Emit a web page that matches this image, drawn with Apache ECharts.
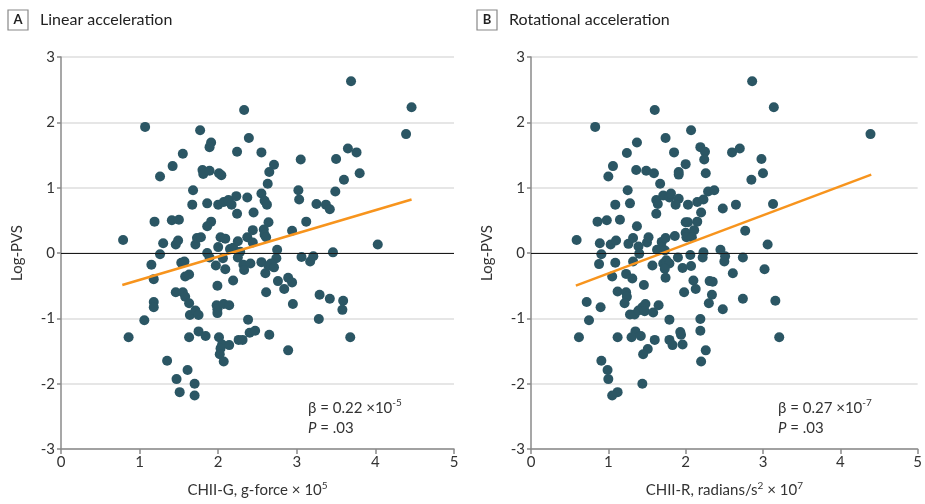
<!DOCTYPE html>
<html>
<head>
<meta charset="utf-8">
<script src="https://cdn.jsdelivr.net/npm/echarts@6/dist/echarts.min.js"></script>
<style>
  html, body { margin: 0; padding: 0; background: #fff; }
  #chart { width: 925px; height: 504px; }
</style>
</head>
<body>
<div id="chart"></div>
<script>
// panel A: CHII-G (g-force x 10^5) vs Log-PVS
const linearPoints = [
  [1.07, 1.93], [2.33, 2.19], [1.77, 1.88], [1.91, 1.69], [1.89, 1.62], [2.39, 1.76],
  [2.24, 1.55], [2.55, 1.54], [1.55, 1.52], [1.42, 1.33], [1.26, 1.17], [1.80, 1.27],
  [1.81, 1.21], [1.89, 1.26], [2.01, 1.22], [2.04, 1.19], [1.68, 0.96], [1.67, 0.74],
  [1.86, 0.76], [2.00, 0.74], [2.07, 0.78], [2.13, 0.81], [2.17, 0.74], [2.23, 0.87],
  [2.37, 0.85], [2.24, 0.60], [2.45, 0.62], [2.55, 0.91], [1.19, 0.48], [1.41, 0.50],
  [1.50, 0.51], [1.91, 0.48], [1.86, 0.41], [2.44, 0.35], [0.79, 0.20], [1.30, 0.15],
  [1.46, 0.13], [1.49, 0.19], [1.71, 0.13], [1.73, 0.23], [1.78, 0.24], [2.00, 0.09],
  [2.03, 0.24], [2.09, 0.22], [2.15, 0.06], [2.19, 0.08], [2.25, 0.18], [2.37, 0.24],
  [2.44, 0.16], [1.26, -0.02], [1.86, 0.00], [1.53, -0.15], [1.57, -0.13], [2.06, -0.08],
  [1.89, -0.07], [2.28, 0.02], [2.25, -0.07], [1.15, -0.18], [1.97, -0.19], [2.09, -0.25],
  [2.32, -0.18], [2.41, -0.16], [2.33, -0.26], [2.55, -0.14], [1.18, -0.40], [1.58, -0.36],
  [1.63, -0.33], [2.19, -0.42], [1.99, -0.50], [1.46, -0.60], [1.55, -0.60], [1.58, -0.67],
  [1.63, -0.77], [1.18, -0.75], [1.18, -0.83], [1.64, -0.95], [1.71, -0.88], [1.75, -0.95],
  [1.98, -0.80], [1.99, -0.86], [1.99, -0.92], [2.07, -0.78], [2.14, -0.80], [1.06, -1.03],
  [2.38, -1.02], [0.86, -1.29], [1.63, -1.29], [1.75, -1.20], [1.84, -1.27], [2.01, -1.29],
  [2.05, -1.40], [2.03, -1.46], [2.02, -1.55], [2.07, -1.66], [2.14, -1.41], [2.26, -1.33],
  [2.31, -1.33], [2.40, -1.22], [2.47, -1.19], [1.35, -1.65], [1.61, -1.79], [1.47, -1.93],
  [1.70, -2.00], [1.51, -2.13], [1.70, -2.18], [3.69, 2.63], [4.46, 2.23], [4.39, 1.82],
  [2.71, 1.35], [2.65, 1.24], [2.63, 1.06], [3.05, 1.43], [3.50, 1.44], [3.65, 1.60],
  [3.76, 1.54], [3.80, 1.22], [3.60, 1.12], [3.49, 0.94], [3.02, 0.96], [3.03, 0.82],
  [3.25, 0.75], [3.37, 0.74], [3.42, 0.67], [2.59, 0.80], [2.62, 0.74], [2.64, 0.47],
  [3.12, 0.48], [2.94, 0.34], [2.58, 0.36], [2.59, 0.28], [2.61, 0.24], [2.75, 0.05],
  [4.03, 0.13], [3.06, -0.06], [3.17, -0.13], [3.21, -0.05], [3.46, 0.01], [2.74, -0.08],
  [2.60, -0.31], [2.64, -0.20], [2.67, -0.16], [2.71, -0.22], [2.76, -0.43], [2.84, -0.55],
  [2.89, -0.38], [2.94, -0.45], [2.61, -0.60], [2.95, -0.78], [3.29, -0.64], [3.42, -0.70],
  [3.59, -0.73], [3.58, -0.87], [3.28, -1.01], [2.65, -1.25], [3.68, -1.29], [2.89, -1.49]
]
const linearFit = [[0.78, -0.49], [4.46, 0.82]]

// panel B: CHII-R (radians/s^2 x 10^7) vs Log-PVS
const rotationalPoints = [
  [1.60, 2.19], [0.83, 1.93], [2.07, 1.88], [1.74, 1.76], [1.37, 1.69], [2.19, 1.62],
  [2.25, 1.55], [2.24, 1.43], [1.85, 1.54], [1.24, 1.53], [1.06, 1.33], [1.00, 1.17],
  [1.36, 1.27], [1.49, 1.26], [1.59, 1.22], [1.91, 1.24], [1.91, 1.20], [2.00, 1.36],
  [2.26, 1.22], [1.67, 1.06], [1.25, 0.96], [1.09, 0.74], [1.28, 0.76], [1.62, 0.81],
  [1.64, 0.75], [1.71, 0.88], [1.79, 0.85], [1.81, 0.91], [1.91, 0.83], [1.87, 0.74],
  [2.03, 0.74], [2.15, 0.78], [2.23, 0.82], [2.29, 0.94], [2.37, 0.96], [2.48, 0.68],
  [1.62, 0.60], [2.20, 0.62], [0.86, 0.48], [0.98, 0.50], [1.15, 0.51], [1.37, 0.41],
  [2.00, 0.47], [2.03, 0.47], [2.15, 0.48], [2.11, 0.35], [0.59, 0.20], [0.89, 0.15],
  [1.03, 0.13], [1.10, 0.19], [1.26, 0.14], [1.32, 0.23], [1.50, 0.16], [1.52, 0.24],
  [1.69, 0.17], [1.74, 0.23], [1.86, 0.26], [2.00, 0.31], [2.01, 0.24], [2.08, 0.24],
  [2.45, 0.05], [0.91, -0.02], [1.39, 0.10], [1.40, -0.01], [1.63, 0.05], [1.69, 0.08],
  [1.90, -0.07], [2.06, -0.03], [2.23, 0.01], [2.22, -0.07], [2.51, -0.05], [2.50, -0.13],
  [1.73, 0.04], [0.88, -0.17], [1.09, -0.15], [1.32, -0.13], [1.57, -0.19], [1.71, -0.16],
  [1.75, -0.11], [1.79, -0.16], [1.73, -0.24], [1.96, -0.23], [2.07, -0.20], [1.05, -0.36],
  [1.23, -0.32], [1.31, -0.39], [1.46, -0.49], [1.74, -0.38], [2.10, -0.42], [2.31, -0.43],
  [2.35, -0.44], [1.98, -0.60], [2.13, -0.55], [1.12, -0.59], [1.23, -0.60], [1.24, -0.67],
  [1.21, -0.77], [2.34, -0.64], [2.30, -0.77], [0.72, -0.75], [0.90, -0.83], [2.48, -0.86],
  [1.28, -0.94], [1.34, -0.94], [1.39, -0.88], [1.44, -0.83], [1.48, -0.78], [1.47, -0.89],
  [1.58, -0.91], [1.65, -0.80], [0.75, -1.03], [1.79, -1.02], [2.19, -1.01], [2.19, -1.19],
  [1.93, -1.21], [1.94, -1.25], [0.62, -1.29], [1.12, -1.29], [1.35, -1.20], [1.30, -1.29],
  [1.42, -1.27], [1.60, -1.33], [1.79, -1.33], [1.83, -1.41], [1.96, -1.40], [2.26, -1.49],
  [2.20, -1.66], [1.51, -1.47], [1.45, -1.55], [0.91, -1.65], [0.99, -1.79], [1.00, -1.93],
  [1.44, -2.00], [1.12, -2.13], [1.05, -2.18], [2.86, 2.63], [3.14, 2.23], [4.39, 1.82],
  [2.60, 1.54], [2.70, 1.60], [2.98, 1.44], [3.00, 1.22], [2.85, 1.12], [2.65, 0.74],
  [3.13, 0.75], [2.77, 0.34], [3.06, 0.13], [2.74, -0.07], [2.61, -0.31], [3.02, -0.25],
  [2.74, -0.70], [3.16, -0.73], [3.21, -1.29]
]
const rotationalFit = [[0.58, -0.50], [4.40, 1.20]]

const xRange = [0, 5]
const yRange = [-3, 3]

const FONT = 'Lato'
const dotColor = '#2b5664'
const fitColor = '#f7941d'
const textColor = '#333'

const supRich = {
  sup: { fontSize: 10, fontFamily: FONT, color: textColor, verticalAlign: 'top', padding: [0, 0, 8, 0] },
  it: { fontSize: 15, fontFamily: FONT, color: textColor, fontStyle: 'italic' }
}

const makeX = (gridIndex, name) => ({
  gridIndex,
  type: 'value',
  min: xRange[0],
  max: xRange[1],
  interval: 1,
  name,
  nameLocation: 'middle',
  nameGap: 32,
  nameTextStyle: { fontFamily: FONT, fontSize: 15, color: textColor, rich: supRich },
  axisLine: { onZero: false, lineStyle: { color: '#8a8a8a', width: 1.5 } },
  axisTick: { show: true, length: 5, lineStyle: { color: '#8a8a8a', width: 1.5 } },
  axisLabel: { fontFamily: FONT, fontSize: 15, color: textColor, margin: 6 },
  splitLine: { show: false }
})

const makeY = (gridIndex) => ({
  gridIndex,
  type: 'value',
  min: yRange[0],
  max: yRange[1],
  interval: 1,
  name: 'Log-PVS',
  nameLocation: 'middle',
  nameGap: 36,
  nameTextStyle: { fontFamily: FONT, fontSize: 15, color: textColor },
  axisLine: { lineStyle: { color: '#8a8a8a', width: 1.5 } },
  axisTick: { show: true, length: 4, lineStyle: { color: '#8a8a8a', width: 1.5 } },
  axisLabel: { fontFamily: FONT, fontSize: 15, color: textColor, margin: 6 },
  splitLine: { show: true, lineStyle: { color: '#dedede', width: 1.5 } }
})

const zeroLine = {
  silent: true,
  symbol: 'none',
  label: { show: false },
  lineStyle: { color: '#1a1a1a', width: 1.2, type: 'solid' },
  data: [{ yAxis: 0 }]
}

const scatter = (idx, data) => ({
  type: 'scatter',
  xAxisIndex: idx,
  yAxisIndex: idx,
  symbolSize: 10,
  itemStyle: { color: dotColor, opacity: 1 },
  data,
  markLine: zeroLine,
  z: 3
})

const fitLine = (idx, data) => ({
  type: 'line',
  xAxisIndex: idx,
  yAxisIndex: idx,
  data,
  symbol: 'none',
  lineStyle: { color: fitColor, width: 2.5 },
  z: 4
})

const panelHeader = (x, letter, label) => ([
  {
    type: 'rect',
    shape: { x: x, y: 10, width: 20, height: 20 },
    style: { fill: '#fff', stroke: '#888', lineWidth: 1.2 }
  },
  {
    type: 'text',
    x: x + 10, y: 20,
    style: { text: letter, fontFamily: FONT, fontSize: 13, fontWeight: 'bold', fill: '#222', align: 'center', verticalAlign: 'middle' }
  },
  {
    type: 'text',
    x: x + 32, y: 20,
    style: { text: label, fontFamily: FONT, fontSize: 16, fill: '#222', verticalAlign: 'middle' }
  }
])

const stats = (x, beta) => ({
  type: 'text',
  x, y: 398,
  style: {
    text: '\u03b2 = ' + beta[0] + ' \u00d710{sup|' + beta[1] + '}\n{it|P} = .03',
    fontFamily: FONT, fontSize: 15, fill: textColor, lineHeight: 20,
    rich: supRich
  }
})

const chart = echarts.init(document.getElementById('chart'), null, { renderer: 'canvas' })
chart.setOption({
  animation: false,
  backgroundColor: '#fff',
  grid: [
    { left: 61, top: 57, width: 393, height: 392 },
    { left: 531, top: 57, width: 391, height: 392 }
  ],
  xAxis: [
    makeX(0, 'CHII-G, g-force \u00d7 10{sup|5}'),
    makeX(1, 'CHII-R, radians/s{sup|2} \u00d7 10{sup|7}')
  ],
  yAxis: [makeY(0), makeY(1)],
  series: [
    scatter(0, linearPoints),
    fitLine(0, linearFit),
    scatter(1, rotationalPoints),
    fitLine(1, rotationalFit)
  ],
  graphic: [
    ...panelHeader(8, 'A', 'Linear acceleration'),
    ...panelHeader(477, 'B', 'Rotational acceleration'),
    stats(308, ['0.22', '-5']),
    stats(778, ['0.27', '-7'])
  ]
})
</script>
</body>
</html>
